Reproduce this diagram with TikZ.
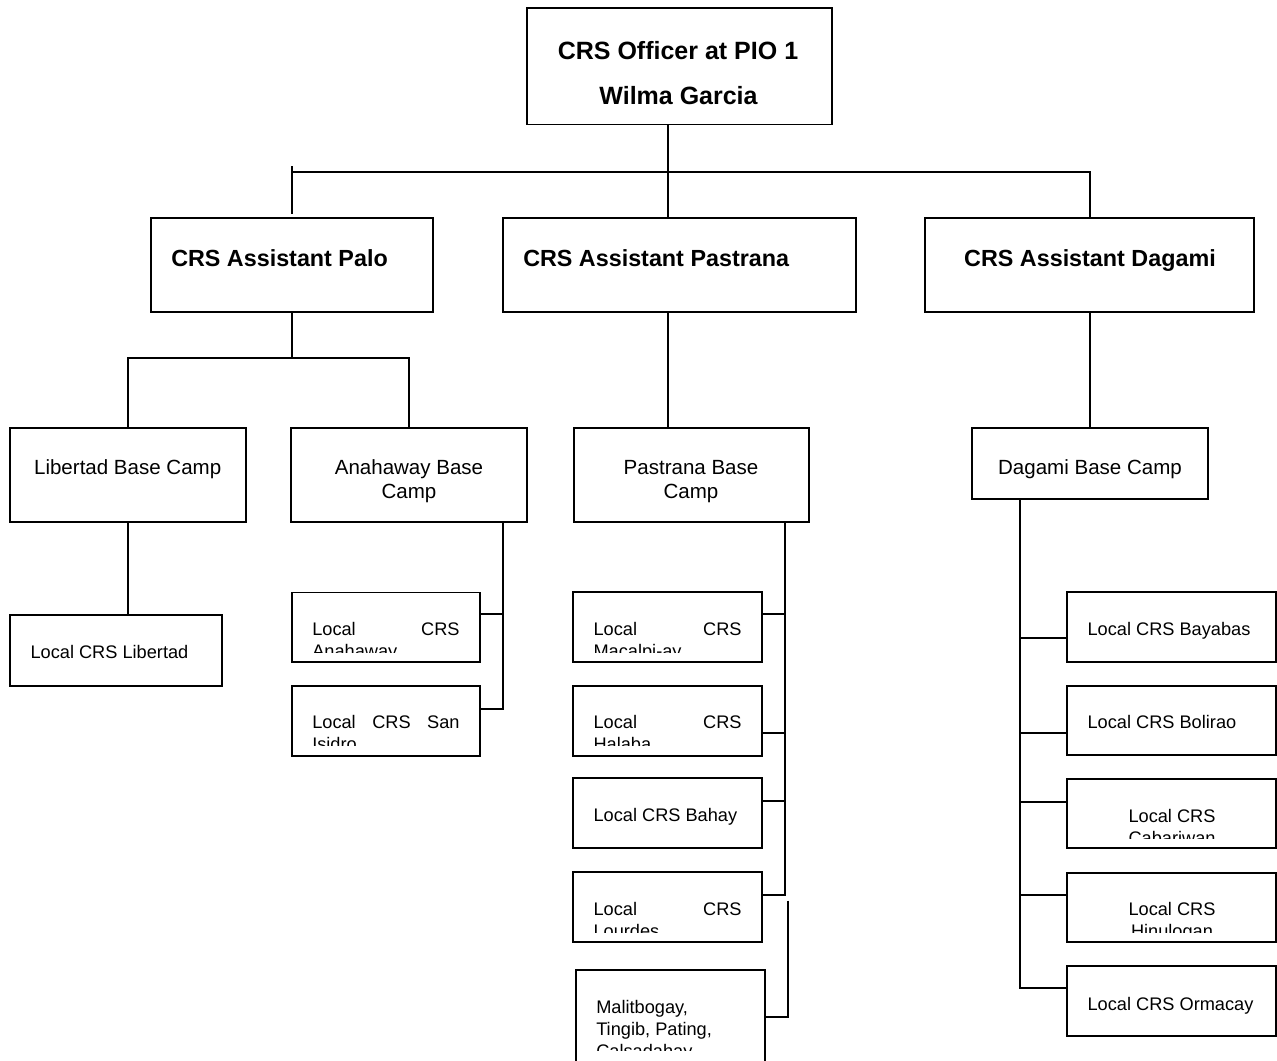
\documentclass[tikz,border=0pt]{standalone}
\usepackage{fontspec}
\setmainfont{Liberation Sans}
\usetikzlibrary{fit,calc}

% font sizes for the four levels of the chart
\newcommand\LvTop{\fontsize{18.75pt}{22pt}\selectfont\bfseries}
\newcommand\LvAsst{\fontsize{17.5pt}{21pt}\selectfont\bfseries}
\newcommand\LvBase{\fontsize{15.4pt}{18pt}\selectfont}
\newcommand\LvLocal{\fontsize{13.65pt}{16pt}\selectfont}

\begin{document}
\begin{tikzpicture}[x=0.75pt,y=-0.75pt,
  box/.style={draw, line width=1.4pt, inner sep=0pt, rectangle},
  wire/.style={line width=1.4pt},
  lbl/.style={inner sep=0pt, anchor=base west},
  clbl/.style={inner sep=0pt, anchor=base},
]
\path[use as bounding box] (0,0) rectangle (1277,1060);
\clip (0,0) rectangle (1277,1060);

% ---------------- boxes ----------------
\node[box, fit={(527,8) (832,124.5)}] (top) {};
\node[box, fit={(151,218) (433,312)}] (palo) {};
\node[box, fit={(503,218) (856,312)}] (past) {};
\node[box, fit={(925,218) (1254,312)}] (dag) {};

\node[box, fit={(10,428.3) (246,521.7)}] (lib) {};
\node[box, fit={(291,428.3) (527,521.7)}] (ana) {};
\node[box, fit={(574,428.3) (809,521.7)}] (pbase) {};
\node[box, fit={(972,428.3) (1208,498.7)}] (dbase) {};

\node[box, fit={(10,615) (222,685.7)}] (loclib) {};
\node[box, fit={(292,592.5) (480,662)}] (locana) {};
\node[box, fit={(292,686) (480,755.7)}] (locsan) {};

\node[box, fit={(573,592.3) (762,662.3)}] (locmac) {};
\node[box, fit={(573,686) (762,755.7)}] (lochal) {};
\node[box, fit={(573,777.7) (762,848.3)}] (locbah) {};
\node[box, fit={(573,872.3) (762,942.3)}] (loclou) {};
\node[box, fit={(576,970) (765,1068)}] (locmal) {};

\node[box, fit={(1067,592.3) (1276,661.7)}] (locbay) {};
\node[box, fit={(1067,686) (1276,755)}] (locbol) {};
\node[box, fit={(1067,779.3) (1276,848.3)}] (loccab) {};
\node[box, fit={(1067,872.7) (1276,942.3)}] (lochin) {};
\node[box, fit={(1067,966) (1276,1036)}] (locorm) {};

% ---------------- labels ----------------
\node[clbl] (ttop1) at (678,59) {\LvTop CRS Officer at PIO 1};
\node[clbl] (ttop2) at (678.5,104) {\LvTop Wilma Garcia};
\node[lbl] (tpalo) at (171,266.7) {\LvAsst CRS Assistant Palo};
\node[lbl] (tpast) at (523,266.7) {\LvAsst CRS Assistant Pastrana};
\node[clbl] (tdag) at (1090,266.7) {\LvAsst CRS Assistant Dagami};

\node[clbl] (tlib) at (127.7,474) {\LvBase Libertad Base Camp};
\node[clbl] (tana1) at (409,474) {\LvBase Anahaway Base};
\node[clbl] (tana2) at (409,498.3) {\LvBase Camp};
\node[clbl] (tpb1) at (691,474) {\LvBase Pastrana Base};
\node[clbl] (tpb2) at (691,498.3) {\LvBase Camp};
\node[clbl] (tdb) at (1090,474) {\LvBase Dagami Base Camp};

\node[lbl] (tloclib) at (30.3,658.3) {\LvLocal Local CRS Libertad};
\node[lbl] (tlocbah) at (593.3,821.7) {\LvLocal Local CRS Bahay};
\node[lbl] (tlocbay) at (1087.3,635) {\LvLocal Local CRS Bayabas};
\node[lbl] (tlocbol) at (1087.3,728.3) {\LvLocal Local CRS Bolirao};
\node[lbl] (tlocorm) at (1087.3,1010) {\LvLocal Local CRS Ormacay};

% two-line labels whose second line is cut off by the text frame
\begin{scope}
  \clip (292.8,593.3) rectangle (479.2,652);
  \node[lbl] (tana1l) at (312,635) {\LvLocal\makebox[110.5pt][s]{Local CRS}};
  \node[lbl] (tana2l) at (312,657) {\LvLocal Anahaway};
\end{scope}
\begin{scope}
  \clip (292.8,686.8) rectangle (479.2,745.7);
  \node[lbl] (tsan1) at (312,728.3) {\LvLocal\makebox[110.5pt][s]{Local CRS San}};
  \node[lbl] (tsan2) at (312,750) {\LvLocal Isidro};
\end{scope}
\begin{scope}
  \clip (573.8,593.1) rectangle (761.2,652);
  \node[lbl] (tmac1) at (593.3,635.7) {\LvLocal\makebox[111pt][s]{Local CRS}};
  \node[lbl] (tmac2) at (593.3,657.5) {\LvLocal Macalpi-ay};
\end{scope}
\begin{scope}
  \clip (573.8,686.8) rectangle (761.2,745.7);
  \node[lbl] (thal1) at (593.3,728.3) {\LvLocal\makebox[111pt][s]{Local CRS}};
  \node[lbl] (thal2) at (593.3,750) {\LvLocal Halaba};
\end{scope}
\begin{scope}
  \clip (573.8,873.1) rectangle (761.2,932.3);
  \node[lbl] (tlou1) at (593.3,915) {\LvLocal\makebox[111pt][s]{Local CRS}};
  \node[lbl] (tlou2) at (593.3,937) {\LvLocal Lourdes};
\end{scope}
\begin{scope}
  \clip (576.8,970.8) rectangle (764.2,1050);
  \node[lbl] (tmal1) at (596,1013.3) {\LvLocal Malitbogay,};
  \node[lbl] (tmal2) at (596,1035) {\LvLocal Tingib, Pating,};
  \node[lbl] (tmal3) at (596,1057) {\LvLocal Calsadahay};
\end{scope}
\begin{scope}
  \clip (1067.8,780.1) rectangle (1275.2,838.3);
  \node[clbl] (tcab1) at (1172,822.3) {\LvLocal Local CRS};
  \node[clbl] (tcab2) at (1172,844) {\LvLocal Cabariwan};
\end{scope}
\begin{scope}
  \clip (1067.8,873.5) rectangle (1275.2,932.3);
  \node[clbl] (thin1) at (1172,915) {\LvLocal Local CRS};
  \node[clbl] (thin2) at (1172,937) {\LvLocal Hinulogan};
\end{scope}

% ---------------- connectors ----------------
\coordinate (bus) at (0,172);
\coordinate (spine) at (668,0);
\coordinate (dspine) at (1090,0);
\draw[wire] (top.south -| spine) -- (past.north -| spine);
\draw[wire] (past.south -| spine) -- (pbase.north -| spine);
\draw[wire] (palo.north |- bus) -- (dspine |- bus) -- (dag.north -| dspine);
\draw[wire] ($(palo.north)+(0,-51)$) -- ($(palo.north)+(0,-3)$);
\draw[wire] (dag.south -| dspine) -- (dbase.north -| dspine);

% Palo branch
\coordinate (pbus) at (0,358.3);
\draw[wire] (palo.south) -- (palo.south |- pbus);
\draw[wire] (lib.north) -- (lib.north |- pbus) -- (ana.north |- pbus) -- (ana.north);
\draw[wire] (lib.south) -- (lib.south |- loclib.north);

% Anahaway locals
\coordinate (a1) at (503,614);
\coordinate (a2) at (503,708.7);
\draw[wire] (ana.south -| a1) -- (a2) -- (a2 -| locsan.east);
\draw[wire] (a1) -- (a1 -| locana.east);

% Pastrana locals
\coordinate (p1) at (785,614.3);
\coordinate (p2) at (785,732.7);
\coordinate (p3) at (785,800.7);
\coordinate (p4) at (785,895);
\draw[wire] (pbase.south -| p4) -- (p4) -- (p4 -| loclou.east);
\draw[wire] (p1) -- (p1 -| locmac.east);
\draw[wire] (p2) -- (p2 -| lochal.east);
\draw[wire] (p3) -- (p3 -| locbah.east);
\coordinate (m1) at (788,900.7);
\coordinate (m2) at (788,1016.7);
\draw[wire] (m1) -- (m2) -- (m2 -| locmal.east);

% Dagami locals
\coordinate (d1) at (1020,638.3);
\coordinate (d2) at (1020,732.7);
\coordinate (d3) at (1020,801.7);
\coordinate (d4) at (1020,895);
\coordinate (d5) at (1020,988);
\draw[wire] (dbase.south -| d5) -- (d5) -- (d5 -| locorm.west);
\draw[wire] (d1) -- (d1 -| locbay.west);
\draw[wire] (d2) -- (d2 -| locbol.west);
\draw[wire] (d3) -- (d3 -| loccab.west);
\draw[wire] (d4) -- (d4 -| lochin.west);
\end{tikzpicture}
\end{document}
